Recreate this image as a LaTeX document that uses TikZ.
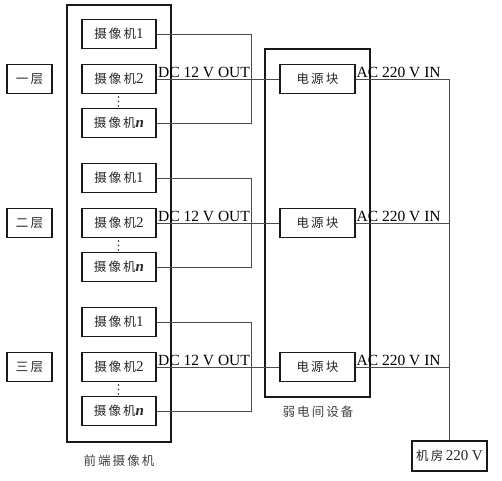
\documentclass[tikz,border=0pt]{standalone}
\usepackage{fontspec}
\setmainfont{Liberation Serif}
\newfontfamily\cjk{Noto Sans CJK SC}
\newcommand{\cj}[1]{{\cjk\fontsize{12.5}{12.5}\selectfont #1}}
\begin{document}
\begin{tikzpicture}[x=1pt,y=-1pt,
  box/.style={draw=black!90, line width=1.2pt, inner sep=0pt, font=\fontsize{15}{15}\selectfont, text=black!85},
  cam/.style={box, minimum width=74pt, minimum height=29pt},
  pwr/.style={box, minimum width=75pt, minimum height=29pt},
  floorbox/.style={box, minimum width=45pt, minimum height=29pt},
  big/.style={draw=black!90, line width=1.2pt, inner sep=0pt},
  wire/.style={draw=black!70, line width=0.8pt},
  lbl/.style={inner sep=0pt, font=\fontsize{15.5}{15.5}\selectfont, text=black},
  captxt/.style={inner sep=0pt, font=\cjk\fontsize{12.5}{12.5}\selectfont, text=black!75}]
\useasboundingbox (0,0) rectangle (502,480);
% big containers
\node[big, minimum width=104pt, minimum height=437pt] (front) at (119,223.5) {};
\node[big, minimum width=105pt, minimum height=348pt] (room) at (317.5,223) {};
\node[captxt] (frontlbl) at (119,461) {前\,端\,摄\,像\,机};
\node[captxt] (roomlbl) at (318,412) {弱\,电\,间\,设\,备};
% machine room
\node[box, minimum width=75pt, minimum height=30pt] (mr) at (449.5,456) {\cj{机\,房}\,220 V};
\foreach \f/\name in {1/一\,层,2/二\,层,3/三\,层}{
  \pgfmathsetmacro{\o}{144*(\f-1)}
  \node[cam] (c1\f) at (119,34+\o) {\cj{摄\,像\,机}1};
  \node[cam] (c2\f) at (119,79+\o) {\cj{摄\,像\,机}2};
  \node[cam] (cn\f) at (119,123+\o) {\cj{摄\,像\,机}\textbf{\textit{n}}};
  \node[floorbox] (fl\f) at (29.5,79+\o) {\cj{\name}};
  \node[pwr] (pb\f) at (317.5,79+\o) {\cj{电\,源\,块}};
  \node[lbl, anchor=base west] (dc\f) at (158,77.5+\o) {DC 12 V OUT};
  \node[lbl, anchor=base west] (ac\f) at (356.5,77.5+\o) {AC 220 V IN};
  \coordinate (j\f) at (251,34+\o);
  \coordinate (a\f) at (449,79+\o);
  \fill[black!80] (118.5,97+\o) circle (0.8) (118.5,101.5+\o) circle (0.8) (118.5,106+\o) circle (0.8);
  \draw[wire] (c1\f.east) -- (j\f) |- (cn\f.east);
  \draw[wire] (c2\f.east) -- (pb\f.west);
  \draw[wire] (pb\f.east) -- (a\f);
}
\draw[wire] (a1) -- (mr.north -| a1);
\end{tikzpicture}
\end{document}
